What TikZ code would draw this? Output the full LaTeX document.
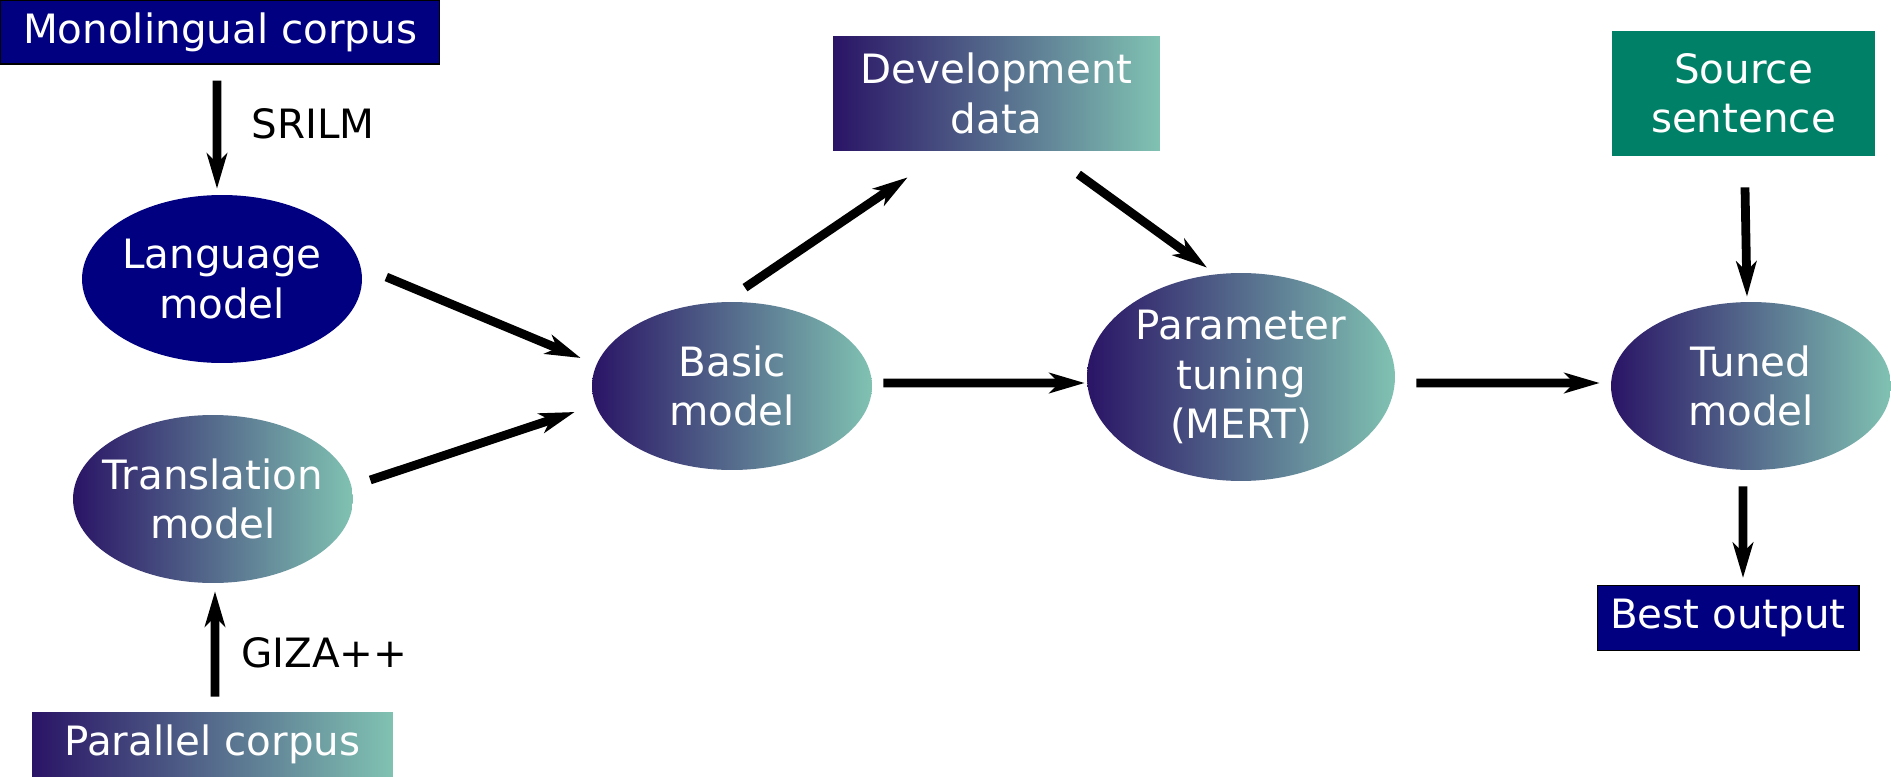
\documentclass[tikz,border=0pt]{standalone}
\usepackage{fontspec}
\setmainfont{DejaVu Sans}
\usetikzlibrary{shapes.geometric,arrows.meta}
\definecolor{deepnavy}{HTML}{000080}
\definecolor{gradstart}{HTML}{2A1466}
\definecolor{gradend}{HTML}{80C2B2}
\definecolor{seagreen}{HTML}{008066}

\begin{document}
\begin{tikzpicture}[x=0.02cm, y=-0.02cm,
		txt/.style = {font = \fontsize{23pt}{28pt}\selectfont, text = white, align = center},
		plainbox/.style = {txt, rectangle, inner sep = 0pt},
		navybox/.style = {plainbox, fill = deepnavy, draw = black, line width = 0.6pt},
		gradbox/.style = {plainbox, left color = gradstart, right color = gradend},
		greenbox/.style = {plainbox, fill = seagreen},
		model/.style = {txt, ellipse, inner sep = -14pt, minimum width = 5.6cm, minimum height = 3.36cm},
		navymodel/.style = {model, fill = deepnavy},
		gradmodel/.style = {model, left color = gradstart, right color = gradend},
		flow/.style = {-{Stealth[length = 20pt, width = 11.5pt, inset = 5.5pt]}, line width = 5pt},
		lbl/.style = {font = \fontsize{23pt}{28pt}\selectfont, text = black, inner sep = 0pt}]

		\useasboundingbox (0,0) rectangle (1891,777);

		\node[navybox, minimum width = 8.8cm, minimum height = 1.28cm] (mono) at (220,32) {Monolingual corpus};

		\node[navymodel] (lm) at (222,279) {Language\\model};

		\node[gradmodel] (tm) at (213,499) {Translation\\model};

		\node[gradbox, minimum width = 7.22cm, minimum height = 1.3cm] (par) at (212.5,744.5) {Parallel corpus};

		\node[gradmodel] (basic) at (732,386) {Basic\\model};

		\node[gradbox, minimum width = 6.54cm, minimum height = 2.3cm] (dev) at (996.5,93.5) {Development\\data};

		\node[gradmodel, minimum width = 6.16cm, minimum height = 4.16cm] (param) at (1241,377) {Parameter\\tuning\\(MERT)};

		\node[greenbox, minimum width = 5.26cm, minimum height = 2.5cm] (src) at (1743.5,93.5) {Source\\sentence};

		\node[gradmodel] (tuned) at (1751,386) {Tuned\\model};

		\node[navybox, minimum width = 5.24cm, minimum height = 1.3cm] (best) at (1728,618) {Best output};

		\draw[flow] ([xshift = -0.06cm, yshift = -0.32cm]mono.south) -- node[lbl, pos = 0.4, right = 0.6cm] (srilm) {SRILM} ([xshift = -0.1cm, yshift = 0.12cm]lm.north);
		\draw[flow] ([xshift = 0.05cm, yshift = 0.3cm]par.north) -- node[lbl, pos = 0.42, right = 0.44cm] (giza) {GIZA++} ([xshift = 0.04cm, yshift = -0.16cm]tm.south);

		\draw[flow] ([xshift = 0.48cm, yshift = 0.04cm]lm.east) -- ([xshift = -0.22cm, yshift = 0.56cm]basic.west);
		\draw[flow] ([xshift = 0.34cm, yshift = 0.38cm]tm.east) -- ([xshift = -0.34cm, yshift = -0.52cm]basic.west);

		\draw[flow] ([xshift = 0.26cm, yshift = 0.28cm]basic.north) -- ([xshift = 1.5cm, yshift = -0.52cm]dev.south west);
		\draw[flow] ([xshift = -1.64cm, yshift = -0.46cm]dev.south east) -- ([xshift = -0.68cm, yshift = 0.1cm]param.north);
		\draw[flow] ([xshift = 0.22cm, yshift = 0.06cm]basic.east) -- ([xshift = -0.04cm, yshift = -0.12cm]param.west);

		\draw[flow] ([xshift = 0.42cm, yshift = -0.12cm]param.east) -- ([xshift = -0.22cm, yshift = 0.06cm]tuned.west);
		\draw[flow] ([xshift = 0.03cm, yshift = -0.62cm]src.south) -- ([xshift = -0.08cm, yshift = 0.1cm]tuned.north);
		\draw[flow] ([xshift = -0.16cm, yshift = -0.32cm]tuned.south) -- ([xshift = 0.3cm, yshift = 0.14cm]best.north);
	\end{tikzpicture}
\end{document}
